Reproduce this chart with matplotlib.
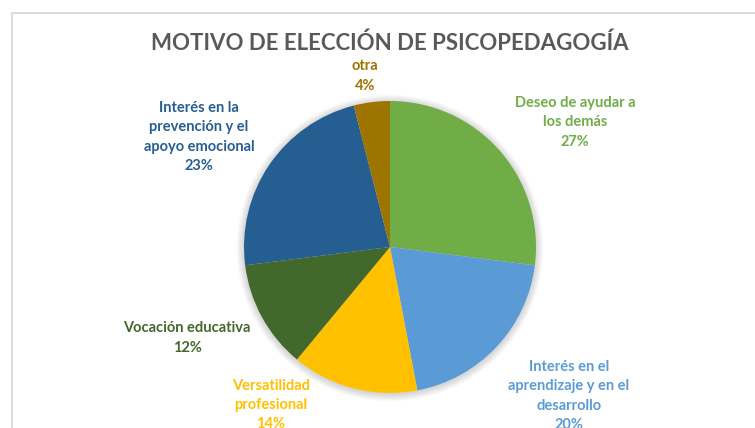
import matplotlib
matplotlib.use("Agg")
import matplotlib.pyplot as plt
from matplotlib.patches import Rectangle, Circle

# Data
categories = ["Deseo de ayudar a\nlos demás",
              "Interés en el\naprendizaje y en el\ndesarrollo",
              "Versatilidad\nprofesional",
              "Vocación educativa",
              "Interés en la\nprevención y el\napoyo emocional",
              "otra"]
values = [27, 20, 14, 12, 23, 4]
colors = ["#70AD47", "#5B9BD5", "#FFC000", "#43682B", "#255E91", "#9E7400"]
title = "MOTIVO DE ELECCIÓN DE PSICOPEDAGOGÍA"

W, H = 755, 428
fig = plt.figure(figsize=(W / 100, H / 100), dpi=100)
ax = fig.add_axes([0, 0, 1, 1])

# chart frame
fig.patches.append(Rectangle((11.5 / W, -0.1), 1.2, (H - 12.5) / H + 0.1,
                             transform=fig.transFigure, fill=False,
                             edgecolor="#D9D9D9", lw=1.3))

font = "Lato"
cx, cy, r = 390, 247, 146

# soft shadow
for i in range(8):
    ax.add_patch(Circle((cx, cy + 1), r + 1 + i * 0.9, color="black",
                        alpha=0.018, lw=0, zorder=1))

# pie (y axis inverted, so counterclock=True draws clockwise on screen)
ax.pie(values, colors=colors, startangle=-90, counterclock=True,
       center=(cx, cy), radius=r, frame=True,
       wedgeprops=dict(linewidth=0, zorder=2))
ax.set_xlim(0, W)
ax.set_ylim(H, 0)
ax.set_aspect("equal")
ax.axis("off")

ax.text(390, 43, title, ha="center", va="center", fontsize=16,
        fontweight="bold", color="#595959", family=font)

label_pos = [(575, 122), (569, 396), (271, 405), (187, 338), (199, 137), (365, 76)]
for cat, v, c, (x, y) in zip(categories, values, colors, label_pos):
    ax.text(x, y, f"{cat}\n{v}%", ha="center", va="center", fontsize=10.5,
            fontweight="bold", color=c, family=font, linespacing=1.5,
            zorder=5)

fig.savefig("out.png", dpi=100)
